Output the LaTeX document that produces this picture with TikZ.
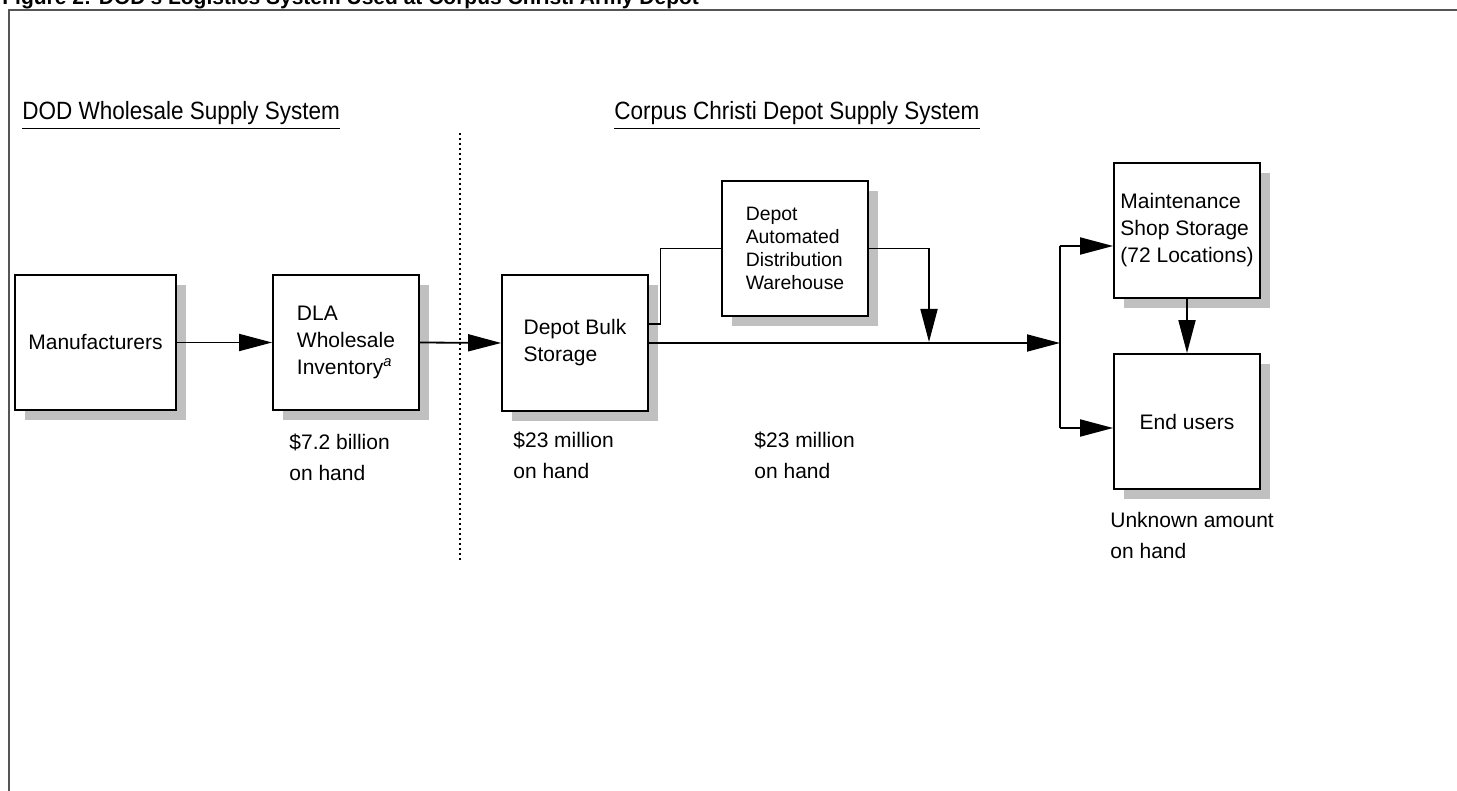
\documentclass[tikz,border=0pt]{standalone}
\usepackage{fontspec}
\setmainfont{Liberation Sans}
\newfontfamily\headfont[FakeStretch=0.9]{Liberation Sans}
\usetikzlibrary{arrows.meta,shadows}
\definecolor{framegray}{HTML}{555555}
\definecolor{shadowgray}{HTML}{C0C0C0}

\begin{document}
\begin{tikzpicture}[x=0.5pt,y=-0.5pt,
    box/.style={draw, line width=0.9pt, fill=white, inner sep=0pt,
      minimum width=73pt, minimum height=67.5pt, align=left,
      font=\fontsize{10.5}{13.5}\selectfont,
      drop shadow={shadow xshift=5pt, shadow yshift=-5pt, fill=shadowgray, opacity=1}},
    link/.style={line width=0.9pt},
    arr/.style={link, -{Triangle[length=16.5pt,width=8.5pt]}},
    note/.style={anchor=base west, inner sep=0pt, align=left,
      font=\fontsize{10.5}{15.5}\selectfont},
    head/.style={anchor=base west, inner sep=0pt,
      font=\headfont\fontsize{12.5}{15}\selectfont}]
		%%%%% FRAME %%%%%
		\useasboundingbox (0,0) rectangle (1457,791);
		\node[anchor=base west, inner sep=0pt, font=\bfseries\fontsize{10.5}{12}\selectfont] (title) at (2,5)
		  {Figure 2: DOD's Logistics System Used at Corpus Christi Army Depot};
		\draw[line width=1pt, framegray] (8.5,800) -- (8.5,10) -- (1470,10);
		
		%%%%% HEADINGS %%%%%
		\node[head] (wholesale) at (22,120) {\underline{DOD Wholesale Supply System}};
		\node[head] (depotsys) at (614,120) {\underline{Corpus Christi Depot Supply System}};
		\draw[line width=0.8pt, dash pattern=on 1pt off 1.5pt] (460,133) -- (460,562);
		
		%%%%% BOXES %%%%%
		\node[box, minimum width=80.5pt] (manuf) at (95.5,342.5) {Manufacturers};
		\node[box] (dla) at (346,342.5) {DLA\\Wholesale\\Inventory\textsuperscript{\itshape a}};
		\node[box, minimum height=68pt] (bulk) at (575,343) {Depot Bulk\\Storage};
		\node[box, font=\fontsize{9.7}{11.5}\selectfont] (dadw) at (795,248.5) {Depot\\Automated\\Distribution\\Warehouse};
		\node[box] (maint) at (1187,230.5) {Maintenance\\Shop Storage\\(72 Locations)};
		\node[box] (users) at (1187,421.5) {End users};
		
		%%%%% FLOWS %%%%%
		\coordinate (merge) at (929,342);
		\coordinate (split) at (1060,343);
		\coordinate (tomaint) at ([yshift=-7.75pt]maint.west);
		\coordinate (touser) at ([yshift=-3.25pt]users.west);
		
		\draw[arr] (manuf.east) -- (dla.west);
		\draw[arr] (dla.east) -- (bulk.west);
		\draw[link] ([yshift=9.5pt]bulk.east) -- ++(11.5,0) |- (dadw.west);
		\draw[arr] (dadw.east) -| (merge);
		\draw[arr] (bulk.east) -- (split);
		\draw[link] (split |- tomaint) -- (split |- touser);
		\draw[arr] (split |- tomaint) -- (tomaint);
		\draw[arr] (split |- touser) -- (touser);
		\draw[arr] (maint) -- (users);
		
		%%%%% AMOUNTS %%%%%
		\node[note] (dlaamt) at (289,480) {\$7.2 billion\\on hand};
		\node[note] (bulkamt) at (513,478) {\$23 million\\on hand};
		\node[note] (lineamt) at (754,478) {\$23 million\\on hand};
		\node[note] (useramt) at (1110,558) {Unknown amount\\on hand};
		
		%%%%% END %%%%%
	\end{tikzpicture}
\end{document}
